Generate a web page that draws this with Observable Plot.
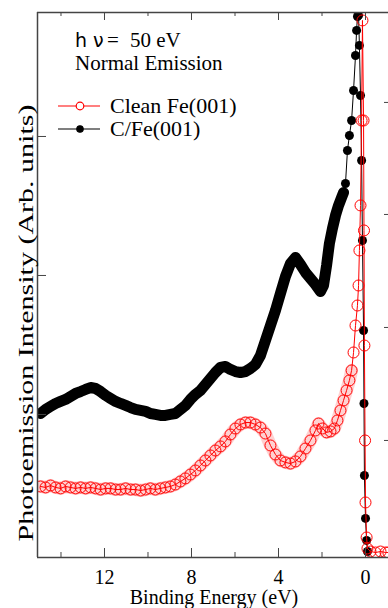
<!DOCTYPE html>
<html>
<head>
<meta charset="utf-8">
<script src="https://cdn.jsdelivr.net/npm/d3@7"></script>
<script src="https://cdn.jsdelivr.net/npm/@observablehq/plot@0.6"></script>
<style>
  html, body { margin: 0; padding: 0; background: #fff; }
  #wrap { position: relative; width: 388px; height: 608px; overflow: hidden; }
  #overlay { position: absolute; left: 0; top: 0; pointer-events: none; }
</style>
</head>
<body>
<div id="wrap"></div>
<script>
// ---- data ----
const seriesNames = ["Clean Fe(001)", "C/Fe(001)"];
const seriesColors = ["#ff0000", "#000000"];

// C/Fe(001): binding energy (eV) and intensity (arb. units)
const energyC = [14.94,14.71,14.48,14.25,14.02,13.79,13.56,13.33,13.10,12.87,12.64,12.41,12.18,11.95,11.72,11.49,11.26,11.03,10.80,10.57,10.34,10.11,9.89,9.66,9.43,9.20,8.97,8.74,8.51,8.28,8.05,7.82,7.59,7.36,7.13,6.90,6.67,6.44,6.21,5.98,5.75,5.52,5.29,5.06,4.83,4.60,4.37,4.14,3.91,3.68,3.45,3.22,2.99,2.76,2.53,2.30,2.07,1.93,1.79,1.66,1.52,1.38,1.24,1.10,1.01,0.92,0.83,0.74,0.64,0.55,0.46,0.41,0.37,0.32,0.28,0.23,0.18,0.14,0.09,0.07,0.05,0.00,-0.05,-0.09];
const intensityC = [1.007,1.036,1.058,1.079,1.094,1.108,1.129,1.151,1.165,1.180,1.194,1.187,1.165,1.137,1.115,1.094,1.079,1.065,1.050,1.036,1.029,1.022,1.007,1.000,0.993,0.993,1.000,1.007,1.036,1.065,1.108,1.144,1.173,1.216,1.259,1.302,1.338,1.345,1.324,1.309,1.302,1.309,1.331,1.360,1.424,1.532,1.640,1.748,1.871,1.993,2.086,2.129,2.079,2.022,1.978,1.935,1.885,1.928,2.072,2.230,2.338,2.432,2.504,2.561,2.597,2.662,2.899,3.007,3.115,3.331,3.583,3.763,3.863,3.871,3.655,3.295,2.827,2.252,1.604,1.079,0.561,0.252,0.094,0.014];

// Clean Fe(001)
const energyClean = [14.94,14.71,14.48,14.25,14.02,13.79,13.56,13.33,13.10,12.87,12.64,12.41,12.18,11.95,11.72,11.49,11.26,11.03,10.80,10.57,10.34,10.11,9.89,9.66,9.43,9.20,8.97,8.74,8.51,8.28,8.05,7.82,7.59,7.36,7.13,6.90,6.67,6.44,6.21,5.98,5.75,5.52,5.29,5.06,4.83,4.60,4.37,4.14,3.91,3.68,3.45,3.22,2.99,2.76,2.53,2.30,2.16,1.98,1.79,1.61,1.43,1.29,1.15,1.01,0.87,0.74,0.64,0.55,0.46,0.37,0.32,0.28,0.23,0.18,0.14,0.09,0.07,0.05,0.02,0.00,-0.05,-0.09,-0.23,-0.46,-0.69,-0.92,-1.05];
const intensityClean = [0.482,0.475,0.489,0.475,0.468,0.482,0.475,0.468,0.475,0.468,0.475,0.468,0.460,0.468,0.468,0.460,0.460,0.468,0.460,0.460,0.453,0.460,0.468,0.460,0.468,0.475,0.482,0.496,0.518,0.540,0.568,0.597,0.633,0.669,0.705,0.741,0.770,0.806,0.856,0.899,0.928,0.942,0.942,0.928,0.906,0.863,0.777,0.712,0.669,0.655,0.647,0.662,0.698,0.755,0.813,0.885,0.935,0.899,0.871,0.878,0.899,0.957,1.029,1.101,1.173,1.245,1.317,1.446,1.640,1.784,1.928,2.180,2.504,3.115,3.835,3.115,2.324,1.496,0.813,0.367,0.115,0.036,0.014,0.007,0.014,0.007,0.007];

// axes
const xDomain = [15.08, -1.057];
const yDomain = [-0.029, 3.892];
const xMajorTicks = [12, 8, 4, 0];
const xMinorTicks = [14, 10, 6, 2];
const yTicks = [1, 2, 3];
const yTicksRightEdge = [0.813, 1.626, 2.439, 3.245];
const xLabel = "Binding Energy (eV)";
const yLabel = "Photoemission Intensity (Arb. units)";
const annotation = ["h ν", "=", "50 eV", "Normal Emission"];

// ---- build ----
const toRows = (E, I) => E.map((e, i) => ({E: e, I: I[i]}));
const cData = toRows(energyC, intensityC);
const cleanData = toRows(energyClean, intensityClean);
// the noisy, densely sampled part of each spectrum is drawn as a thick band
const cBand = cData.filter(d => d.E >= 1.0);
const cleanBand = cleanData.filter(d => d.E >= 0.6);

const W = 388, H = 608;
const mL = 37, mT = 12, mB = 51, mR = 0;
const fw = W - mL - mR, fh = H - mT - mB;
const frameColor = "#444";
const serif = "'Liberation Serif', 'Times New Roman', serif";

const chart = Plot.plot({
  width: W, height: H,
  marginLeft: mL, marginTop: mT, marginBottom: mB, marginRight: mR,
  style: {fontFamily: serif, fontSize: "20px", background: "#fff", color: "#000"},
  x: {domain: xDomain, axis: null},
  y: {domain: yDomain, axis: null},
  marks: [
    // C/Fe(001): dense band of filled markers
    Plot.line(cBand, {x: "E", y: "I", stroke: seriesColors[1], strokeWidth: 11, strokeLinejoin: "round", strokeLinecap: "round", clip: true}),
    Plot.line(cData, {x: "E", y: "I", stroke: seriesColors[1], strokeWidth: 1, clip: true}),
    Plot.dot(cData, {x: "E", y: "I", r: 4.5, fill: seriesColors[1], stroke: "none", clip: true}),
    // Clean Fe(001): band of open circles
    Plot.line(cleanBand, {x: "E", y: "I", stroke: seriesColors[0], strokeWidth: 13, strokeOpacity: 0.18, strokeLinejoin: "round", clip: true}),
    Plot.line(cleanData, {x: "E", y: "I", stroke: seriesColors[0], strokeWidth: 1, clip: true}),
    Plot.dot(cleanData, {x: "E", y: "I", r: 5.5, fill: "none", stroke: seriesColors[0], strokeWidth: 1, clip: true}),
    // frame (top, bottom, left)
    Plot.ruleY([yDomain[0]], {stroke: frameColor, strokeWidth: 1.3}),
    Plot.ruleY([yDomain[1]], {stroke: frameColor, strokeWidth: 1.3}),
    Plot.ruleX([xDomain[0]], {stroke: frameColor, strokeWidth: 1.5}),
    // inward ticks bottom
    Plot.ruleX(xMajorTicks, {x: d => d, stroke: frameColor, insetTop: fh - 9}),
    Plot.ruleX(xMinorTicks, {x: d => d, stroke: frameColor, insetTop: fh - 5}),
    // inward ticks top
    Plot.ruleX(xMajorTicks, {x: d => d, stroke: frameColor, insetBottom: fh - 8}),
    Plot.ruleX(xMinorTicks, {x: d => d, stroke: frameColor, insetBottom: fh - 4}),
    // inward ticks left
    Plot.ruleY(yTicks, {y: d => d, stroke: frameColor, insetRight: fw - 9}),
    // ticks visible at the right edge
    Plot.ruleY(yTicksRightEdge, {y: d => d, stroke: "#444", insetLeft: fw - 4}),
    // tick labels
    Plot.axisX({ticks: xMajorTicks, tickSize: 0, tickPadding: 12, label: null, tickFormat: d => String(d)})
  ]
});

const wrap = document.getElementById("wrap");
wrap.appendChild(chart);

// overlay: axis titles, annotation and legend
const ov = d3.select(wrap).append("svg")
  .attr("id", "overlay").attr("width", W).attr("height", H)
  .attr("xmlns", "http://www.w3.org/2000/svg")
  .style("font-family", serif);

// x title
ov.append("text").attr("x", 214).attr("y", 604).attr("text-anchor", "middle")
  .attr("font-size", 20).attr("fill", "#000").text(xLabel);

// y title (stretched along its length as in the reference)
ov.append("text").attr("transform", "translate(33,323) rotate(-90)")
  .attr("text-anchor", "middle").attr("font-size", 21).attr("fill", "#000")
  .attr("textLength", 437).attr("lengthAdjust", "spacingAndGlyphs")
  .text(yLabel);

// annotation
ov.append("text").attr("x", 75).attr("y", 47).attr("font-size", 19)
  .attr("font-family", "'DejaVu Sans', sans-serif").attr("fill", "#000").text(annotation[0]);
ov.append("text").attr("x", 107).attr("y", 47).attr("font-size", 21).attr("fill", "#000").text(annotation[1]);
ov.append("text").attr("x", 130).attr("y", 47).attr("font-size", 21).attr("fill", "#000").text(annotation[2]);
ov.append("text").attr("x", 75).attr("y", 70).attr("font-size", 21).attr("fill", "#000").text(annotation[3]);

// legend
const legRows = [
  {name: seriesNames[0], color: seriesColors[0], open: true, y: 106},
  {name: seriesNames[1], color: seriesColors[1], open: false, y: 129}
];
legRows.forEach(r => {
  ov.append("line").attr("x1", 58).attr("x2", 100).attr("y1", r.y).attr("y2", r.y)
    .attr("stroke", r.color).attr("stroke-width", 1.2);
  ov.append("circle").attr("cx", 80).attr("cy", r.y).attr("r", r.open ? 3.8 : 3.2)
    .attr("fill", r.open ? "#fff" : r.color).attr("stroke", r.color).attr("stroke-width", 1.2);
  ov.append("text").attr("x", 110).attr("y", r.y + 7).attr("font-size", 22).attr("fill", "#000").text(r.name);
});
</script>
</body>
</html>
